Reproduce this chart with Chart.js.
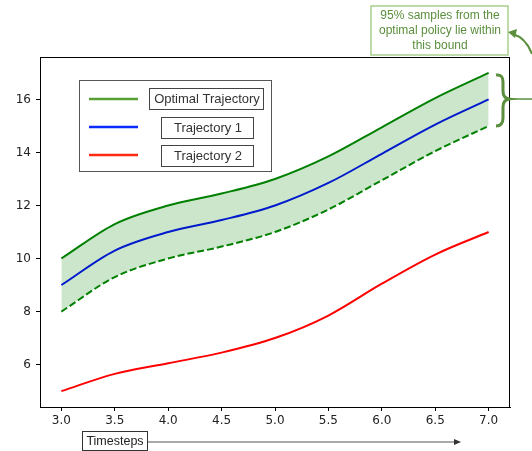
<!DOCTYPE html>
<html>
<head>
<meta charset="utf-8">
<script src="https://cdn.jsdelivr.net/npm/chart.js@4"></script>
<style>
  body { margin: 0; background: #fff; }
  #chart { display: block; }
</style>
</head>
<body>
<canvas id="chart" width="532" height="451"></canvas>
<script>
// values every half timestep
const timesteps = [3, 3.5, 4, 4.5, 5, 5.5, 6, 6.5, 7];
const optimal = [10, 11.3, 12, 12.45, 13, 13.85, 14.95, 16.05, 17];
const traj1 = [9, 10.3, 11, 11.45, 12, 12.85, 13.95, 15.05, 16];
const lowerBound = [8, 9.3, 10, 10.45, 11, 11.85, 12.95, 14.05, 15];
const traj2 = [5, 5.65, 6.05, 6.45, 7, 7.85, 9.05, 10.15, 11];

const xTickValues = [3.0, 3.5, 4.0, 4.5, 5.0, 5.5, 6.0, 6.5, 7.0];
const yTickValues = [6, 8, 10, 12, 14, 16];

const legendLabels = ["Optimal Trajectory", "Trajectory 1", "Trajectory 2"];
const noteLines = ["95% samples from the", "optimal policy lie within", "this bound"];
const axisNote = "Timesteps";

function pts(ys) {
    return timesteps.map((x, i) => ({ x: x, y: ys[i] }));
}

const annoGreen = "#5b8f3e";

// the hand-drawn looking bits: legend, note box, brace, arrows, frame
const extras = {
    id: "extras",
    afterDraw(chart) {
        const ctx = chart.ctx;
        const a = chart.chartArea;
        ctx.save();

        // frame
        ctx.strokeStyle = "#000";
        ctx.lineWidth = 1;
        ctx.strokeRect(a.left + 0.5, a.top + 0.5, a.right - a.left - 1, a.bottom - a.top);

        // legend box
        ctx.strokeStyle = "#555";
        ctx.strokeRect(79.5, 80.5, 192, 91);
        const legendCols = ["#58a036", "#0a2cff", "#ff2a14"];
        const rows = [99, 127, 155];
        const boxes = [[149, 88, 114, 21], [161, 117, 92, 21], [161, 145, 92, 21]];
        ctx.font = "13px 'Liberation Sans', Arial, sans-serif";
        ctx.textAlign = "center";
        ctx.textBaseline = "middle";
        rows.forEach((y, i) => {
            ctx.strokeStyle = legendCols[i];
            ctx.lineWidth = 2.5;
            ctx.beginPath();
            ctx.moveTo(89, y);
            ctx.lineTo(138, y);
            ctx.stroke();
            const b = boxes[i];
            ctx.strokeStyle = "#444";
            ctx.lineWidth = 1;
            ctx.strokeRect(b[0] + 0.5, b[1] + 0.5, b[2], b[3]);
            ctx.fillStyle = "#333";
            ctx.fillText(legendLabels[i], b[0] + b[2] / 2 + 1, b[1] + b[3] / 2 + 1);
        });

        // note box top right
        ctx.strokeStyle = "#a8cf8c";
        ctx.lineWidth = 1.5;
        ctx.fillStyle = "#fff";
        ctx.fillRect(371, 6, 137, 49);
        ctx.strokeRect(371, 6, 137, 49);
        ctx.fillStyle = annoGreen;
        ctx.font = "12px 'Liberation Sans', Arial, sans-serif";
        noteLines.forEach((t, i) => ctx.fillText(t, 440, 16 + i * 14.8));

        // curved arrow into the note box
        ctx.strokeStyle = annoGreen;
        ctx.lineWidth = 2;
        ctx.beginPath();
        ctx.moveTo(532, 54);
        ctx.quadraticCurveTo(526, 38, 513, 34);
        ctx.stroke();
        ctx.fillStyle = annoGreen;
        ctx.beginPath();
        ctx.moveTo(508, 32);
        ctx.lineTo(517, 29);
        ctx.lineTo(515, 38);
        ctx.closePath();
        ctx.fill();

        // brace
        ctx.lineWidth = 3;
        ctx.beginPath();
        ctx.moveTo(496, 75);
        ctx.quadraticCurveTo(503, 74, 503, 82);
        ctx.lineTo(503, 91);
        ctx.quadraticCurveTo(503, 98, 509, 99);
        ctx.quadraticCurveTo(503, 100, 503, 107);
        ctx.lineTo(503, 118);
        ctx.quadraticCurveTo(503, 126, 496, 126);
        ctx.stroke();
        ctx.lineWidth = 1.5;
        ctx.beginPath();
        ctx.moveTo(509, 99);
        ctx.lineTo(532, 99);
        ctx.stroke();

        // Timesteps label + arrow
        ctx.strokeStyle = "#333";
        ctx.lineWidth = 1;
        ctx.strokeRect(82.5, 431.5, 65, 19);
        ctx.fillStyle = "#222";
        ctx.font = "12.5px 'Liberation Sans', Arial, sans-serif";
        ctx.fillText(axisNote, 115, 442);
        ctx.strokeStyle = "#555";
        ctx.beginPath();
        ctx.moveTo(148, 442);
        ctx.lineTo(455, 442);
        ctx.stroke();
        ctx.fillStyle = "#333";
        ctx.beginPath();
        ctx.moveTo(461, 442);
        ctx.lineTo(454, 439);
        ctx.lineTo(454, 445);
        ctx.closePath();
        ctx.fill();

        ctx.restore();
    }
};

const tickFont = { family: "'DejaVu Sans', sans-serif", size: 12 };

new Chart(document.getElementById("chart"), {
    type: "line",
    data: {
        datasets: [
            {
                label: "Optimal Trajectory",
                data: pts(optimal),
                borderColor: "#008000",
                borderWidth: 2,
                fill: false
            },
            {
                label: "Lower bound",
                data: pts(lowerBound),
                borderColor: "#008000",
                borderWidth: 2,
                borderDash: [7, 3],
                backgroundColor: "rgba(0,128,0,0.2)",
                fill: 0
            },
            {
                label: "Trajectory 1",
                data: pts(traj1),
                borderColor: "#0000ff",
                borderWidth: 2,
                fill: false
            },
            {
                label: "Trajectory 2",
                data: pts(traj2),
                borderColor: "#ff0000",
                borderWidth: 2,
                fill: false
            }
        ]
    },
    options: {
        responsive: false,
        animation: false,
        elements: {
            point: { radius: 0 },
            line: { cubicInterpolationMode: "monotone" }
        },
        layout: { padding: { top: 57, right: 22, left: 0, bottom: 0 } },
        plugins: {
            legend: { display: false },
            tooltip: { enabled: false }
        },
        scales: {
            x: {
                type: "linear",
                min: 2.8,
                max: 7.2,
                afterBuildTicks: s => { s.ticks = xTickValues.map(v => ({ value: v })); },
                afterFit: s => { s.height = 44; },
                grid: { drawOnChartArea: false, tickLength: 4, color: "#000" },
                border: { color: "#000" },
                ticks: {
                    font: tickFont,
                    color: "#222",
                    padding: 3,
                    maxRotation: 0,
                    callback: v => v.toFixed(1)
                }
            },
            y: {
                min: 4.4,
                max: 17.6,
                afterBuildTicks: s => { s.ticks = yTickValues.map(v => ({ value: v })); },
                afterFit: s => { s.width = 40; },
                grid: { drawOnChartArea: false, tickLength: 4, color: "#000" },
                border: { color: "#000" },
                ticks: {
                    font: tickFont,
                    color: "#222",
                    padding: 5,
                    callback: v => String(v)
                }
            }
        }
    },
    plugins: [extras]
});
</script>
</body>
</html>
